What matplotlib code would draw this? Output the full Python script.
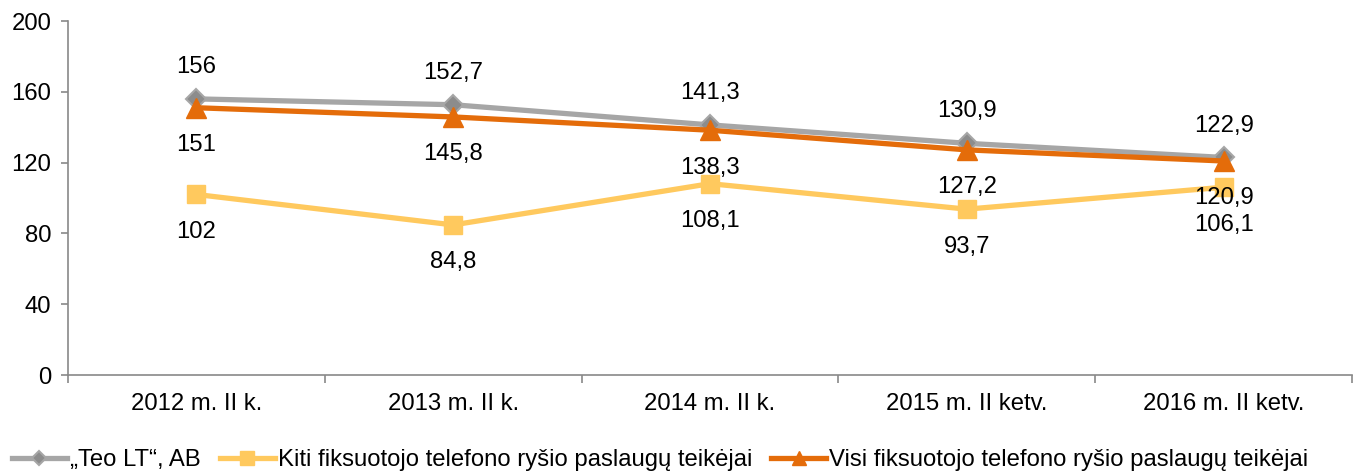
import matplotlib.pyplot as plt

categories = ['2012 m. II k.', '2013 m. II k.', '2014 m. II k.', '2015 m. II ketv.', '2016 m. II ketv.']
teo = [156, 152.7, 141.3, 130.9, 122.9]
kiti = [102, 84.8, 108.1, 93.7, 106.1]
visi = [151, 145.8, 138.3, 127.2, 120.9]
yticks = [0, 40, 80, 120, 160, 200]

plt.rcParams['font.family'] = ['Liberation Sans', 'DejaVu Sans']
FS = 17.2

fig = plt.figure(figsize=(13.55, 4.71), dpi=100)
ax = fig.add_axes([0.0502, 0.2038, 0.9476, 0.7516])

x = list(range(len(categories)))


def fmt(v):
    return ('%g' % v).replace('.', ',')


ax.plot(x, teo, color='#A6A6A6', linewidth=3.8, marker='D', markersize=10,
        markerfacecolor='#8C8C8C', markeredgecolor='#A6A6A6', markeredgewidth=1.5,
        label='\u201eTeo LT\u201c, AB', zorder=3)
ax.plot(x, kiti, color='#FFC95E', linewidth=3.8, marker='s', markersize=13,
        markerfacecolor='#FFC95E', markeredgecolor='#FFC95E',
        label='Kiti fiksuotojo telefono ryšio paslaugų teikėjai', zorder=4)
ax.plot(x, visi, color='#E46C0A', linewidth=3.8, marker='^', markersize=14,
        markerfacecolor='#E46C0A', markeredgecolor='#E46C0A',
        label='Visi fiksuotojo telefono ryšio paslaugų teikėjai', zorder=5)

for i in x:
    ax.annotate(fmt(teo[i]), (i, teo[i]), xytext=(0, 15), textcoords='offset points',
                ha='center', va='bottom', fontsize=FS, zorder=6)
    ax.annotate(fmt(visi[i]), (i, visi[i]), xytext=(0, -19), textcoords='offset points',
                ha='center', va='top', fontsize=FS, zorder=6)
    ax.annotate(fmt(kiti[i]), (i, kiti[i]), xytext=(0, -19), textcoords='offset points',
                ha='center', va='top', fontsize=FS, zorder=6)

ax.set_xlim(-0.5, len(categories) - 0.5)
ax.set_ylim(0, 200)
ax.set_yticks(yticks)
ax.set_yticklabels([str(t) for t in yticks], fontsize=FS)
ax.set_xticks(x)
ax.set_xticklabels(categories, fontsize=FS)
ax.set_xticks([i - 0.5 for i in range(len(categories) + 1)], minor=True)
ax.tick_params(axis='x', which='major', length=0, pad=13)
ax.tick_params(axis='x', which='minor', length=6, color='#898989', width=1.2)
ax.tick_params(axis='y', length=5, color='#898989', width=1.2, pad=7)

ax.spines['top'].set_visible(False)
ax.spines['right'].set_visible(False)
for s in ['left', 'bottom']:
    ax.spines[s].set_color('#898989')
    ax.spines[s].set_linewidth(1.2)

fig.legend(loc='lower left', bbox_to_anchor=(0.0, -0.026), ncol=3, frameon=False,
           fontsize=FS, handlelength=2.3, handletextpad=0.13, columnspacing=0.8,
           markerscale=0.75, borderaxespad=0.2, borderpad=0.3)

fig.savefig('out.png', dpi=100)
